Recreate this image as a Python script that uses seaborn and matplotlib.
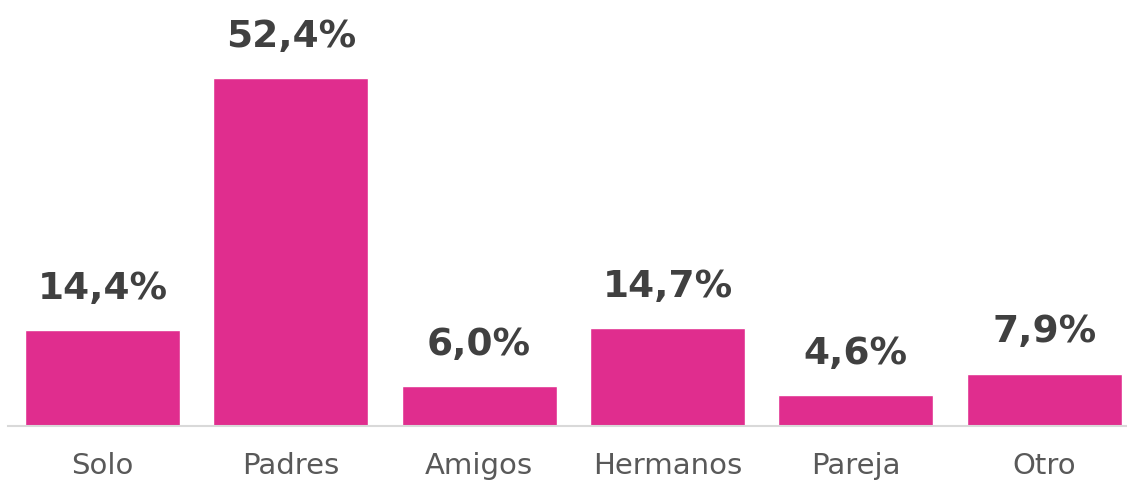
import matplotlib
matplotlib.use("Agg")
import matplotlib.pyplot as plt
import seaborn as sns
import pandas as pd

categories = ["Solo", "Padres", "Amigos", "Hermanos", "Pareja", "Otro"]
values = [14.4, 52.4, 6.0, 14.7, 4.6, 7.9]
labels = ["14,4%", "52,4%", "6,0%", "14,7%", "4,6%", "7,9%"]

sns.set_theme(style="white")
plt.rcParams["font.family"] = ["DejaVu Sans"]

W, H = 1127, 483
fig = plt.figure(figsize=(W / 100, H / 100), dpi=100)
ax = fig.add_axes([8.3 / W, 57 / H, 1130 / W, 426 / H])

df = pd.DataFrame({"cat": categories, "val": values})
sns.barplot(data=df, x="cat", y="val", color="#E02D8E", saturation=1, width=0.823, ax=ax)

ax.set_xlim(-0.5, 5.5)
ax.set_ylim(0, 64.2)
ax.set_xlabel("")
ax.set_ylabel("")
ax.set_yticks([])
for s in ["top", "right", "left"]:
    ax.spines[s].set_visible(False)
ax.spines["bottom"].set_color("#D9D9D9")
ax.spines["bottom"].set_linewidth(1.5)
ax.tick_params(axis="x", length=0, pad=19, labelsize=21, labelcolor="#595959")

for i, (v, lab) in enumerate(zip(values, labels)):
    ax.annotate(lab, (i, v), xytext=(0, 17), textcoords="offset points",
                ha="center", va="bottom", fontsize=27, fontweight="bold", color="#404040")

fig.savefig("out.png", dpi=100)
